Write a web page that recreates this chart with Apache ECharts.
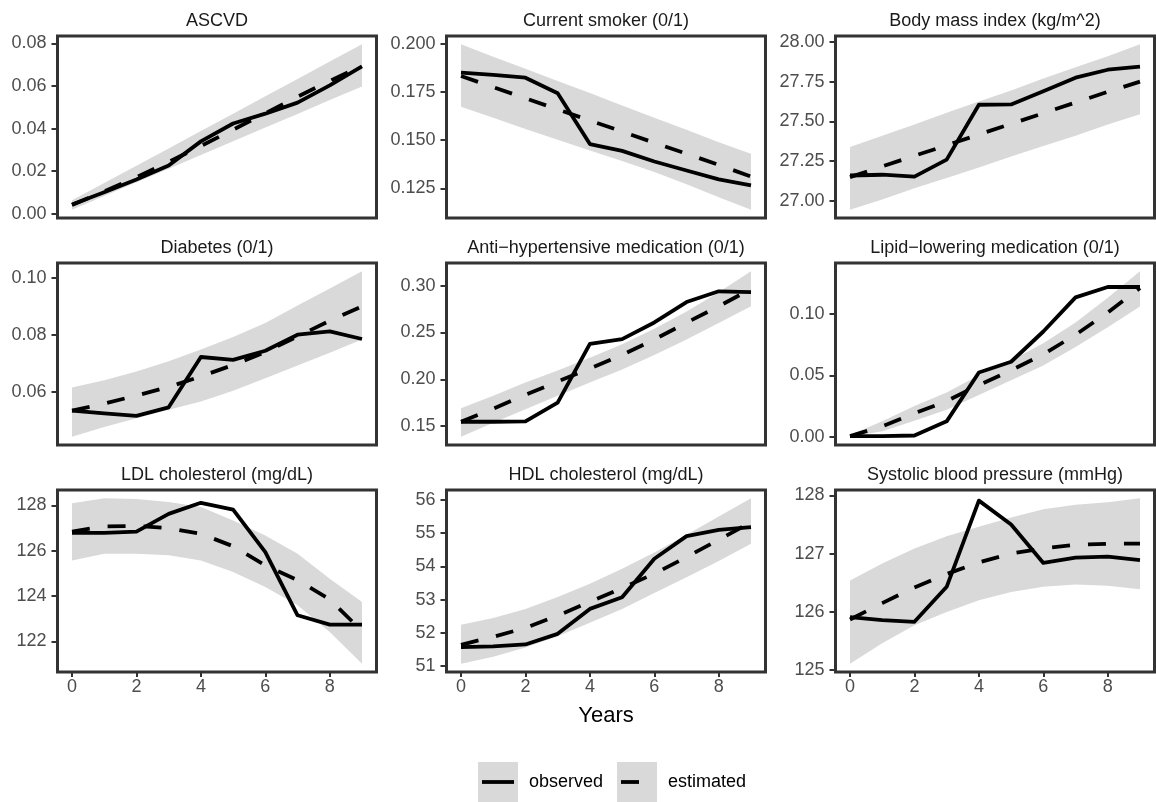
<!DOCTYPE html>
<html>
<head>
<meta charset="utf-8">
<title>Observed vs estimated trajectories</title>
<script src="https://cdn.jsdelivr.net/npm/echarts@6.0.0/dist/echarts.min.js"></script>
<style>
  html, body { margin: 0; padding: 0; background: #ffffff; }
  #chart { width: 1156px; height: 802px; }
</style>
</head>
<body>
<div id="chart"></div>
<script>
// Follow-up years shared by every panel
const years = [0, 1, 2, 3, 4, 5, 6, 7, 8, 9];
const yearTicks = [0, 2, 4, 6, 8];

// ASCVD
const ascvdObserved  = [0.0044, 0.0101, 0.0161, 0.0227, 0.0340, 0.0424, 0.0470, 0.0522, 0.0603, 0.0692];
const ascvdEstimated = [0.0041, 0.0105, 0.0172, 0.0243, 0.0318, 0.0395, 0.0472, 0.0550, 0.0624, 0.0695];
const ascvdUpper     = [0.0063, 0.0144, 0.0226, 0.0307, 0.0389, 0.0470, 0.0552, 0.0633, 0.0715, 0.0796];
const ascvdLower     = [0.0019, 0.0083, 0.0148, 0.0212, 0.0276, 0.0341, 0.0405, 0.0469, 0.0534, 0.0598];
const ascvdTicks     = [0, 0.02, 0.04, 0.06, 0.08];

// Current smoker
const smokerObserved  = [0.1850, 0.1838, 0.1824, 0.1743, 0.1480, 0.1445, 0.1390, 0.1343, 0.1297, 0.1266];
const smokerEstimated = [0.1833, 0.1775, 0.1717, 0.1660, 0.1602, 0.1545, 0.1487, 0.1430, 0.1372, 0.1312];
const smokerUpper     = [0.1997, 0.1933, 0.1870, 0.1807, 0.1744, 0.1680, 0.1617, 0.1554, 0.1490, 0.1430];
const smokerLower     = [0.1674, 0.1616, 0.1558, 0.1502, 0.1447, 0.1392, 0.1335, 0.1272, 0.1205, 0.1140];
const smokerTicks     = [0.125, 0.150, 0.175, 0.200];

// Body mass index
const bmiObserved  = [27.160, 27.165, 27.153, 27.260, 27.605, 27.607, 27.690, 27.775, 27.825, 27.845];
const bmiEstimated = [27.150, 27.217, 27.284, 27.350, 27.418, 27.485, 27.552, 27.619, 27.686, 27.750];
const bmiUpper     = [27.340, 27.410, 27.480, 27.555, 27.625, 27.695, 27.770, 27.840, 27.910, 27.985];
const bmiLower     = [26.945, 27.010, 27.080, 27.145, 27.210, 27.280, 27.345, 27.410, 27.480, 27.545];
const bmiTicks     = [27.00, 27.25, 27.50, 27.75, 28.00];

// Diabetes
const diabetesObserved  = [0.0535, 0.0526, 0.0517, 0.0547, 0.0723, 0.0713, 0.0745, 0.0801, 0.0813, 0.0786];
const diabetesEstimated = [0.0535, 0.0560, 0.0588, 0.0618, 0.0655, 0.0695, 0.0740, 0.0795, 0.0850, 0.0900];
const diabetesUpper     = [0.0616, 0.0642, 0.0672, 0.0708, 0.0749, 0.0793, 0.0842, 0.0903, 0.0963, 0.1023];
const diabetesLower     = [0.0444, 0.0478, 0.0509, 0.0538, 0.0567, 0.0605, 0.0649, 0.0693, 0.0738, 0.0784];
const diabetesTicks     = [0.06, 0.08, 0.10];

// Anti-hypertensive medication
const antihypObserved  = [0.1546, 0.1546, 0.1550, 0.1750, 0.2379, 0.2429, 0.2607, 0.2825, 0.2940, 0.2932];
const antihypEstimated = [0.1546, 0.1685, 0.1835, 0.1975, 0.2115, 0.2260, 0.2425, 0.2605, 0.2780, 0.2965];
const antihypUpper     = [0.1690, 0.1825, 0.1965, 0.2095, 0.2230, 0.2375, 0.2540, 0.2725, 0.2930, 0.3154];
const antihypLower     = [0.1386, 0.1535, 0.1680, 0.1825, 0.1965, 0.2105, 0.2260, 0.2425, 0.2600, 0.2779];
const antihypTicks     = [0.15, 0.20, 0.25, 0.30];

// Lipid-lowering medication
const lipidObserved  = [0.0005, 0.0005, 0.0010, 0.0125, 0.0523, 0.0610, 0.0856, 0.1134, 0.1218, 0.1218];
const lipidEstimated = [0.0005, 0.0085, 0.0190, 0.0290, 0.0420, 0.0540, 0.0670, 0.0830, 0.1010, 0.1210];
const lipidUpper     = [0.0015, 0.0125, 0.0250, 0.0360, 0.0500, 0.0620, 0.0760, 0.0930, 0.1130, 0.1346];
const lipidLower     = [0.0000, 0.0045, 0.0130, 0.0220, 0.0340, 0.0460, 0.0580, 0.0730, 0.0890, 0.1060];
const lipidTicks     = [0.00, 0.05, 0.10];

// LDL cholesterol
const ldlObserved  = [126.79, 126.79, 126.85, 127.63, 128.12, 127.82, 125.94, 123.15, 122.74, 122.74];
const ldlEstimated = [126.85, 127.08, 127.10, 127.00, 126.75, 126.20, 125.35, 124.70, 123.85, 122.45];
const ldlUpper     = [128.10, 128.32, 128.29, 128.15, 127.93, 127.34, 126.68, 125.87, 124.76, 123.74];
const ldlLower     = [125.57, 125.87, 125.87, 125.80, 125.57, 125.06, 124.40, 123.59, 122.41, 121.01];
const ldlTicks     = [122, 124, 126, 128];

// HDL cholesterol
const hdlObserved  = [51.57, 51.59, 51.65, 51.97, 52.72, 53.07, 54.23, 54.91, 55.10, 55.18];
const hdlEstimated = [51.64, 51.88, 52.15, 52.52, 52.93, 53.35, 53.78, 54.28, 54.80, 55.33];
const hdlUpper     = [52.24, 52.45, 52.72, 53.08, 53.48, 53.93, 54.42, 54.95, 55.50, 56.05];
const hdlLower     = [51.07, 51.28, 51.56, 51.90, 52.30, 52.72, 53.20, 53.67, 54.16, 54.68];
const hdlTicks     = [51, 52, 53, 54, 55, 56];

// Systolic blood pressure
const sbpObserved  = [125.91, 125.86, 125.83, 126.43, 127.91, 127.50, 126.84, 126.93, 126.95, 126.89];
const sbpEstimated = [125.87, 126.15, 126.42, 126.65, 126.85, 127.00, 127.09, 127.15, 127.17, 127.17];
const sbpUpper     = [126.54, 126.83, 127.09, 127.30, 127.46, 127.62, 127.76, 127.84, 127.88, 127.95];
const sbpLower     = [125.11, 125.46, 125.77, 126.00, 126.20, 126.34, 126.43, 126.47, 126.45, 126.39];
const sbpTicks     = [125, 126, 127, 128];

const panels = [
  { title: 'ASCVD', obs: ascvdObserved, est: ascvdEstimated, up: ascvdUpper, lo: ascvdLower, ticks: ascvdTicks, digits: 2 },
  { title: 'Current smoker (0/1)', obs: smokerObserved, est: smokerEstimated, up: smokerUpper, lo: smokerLower, ticks: smokerTicks, digits: 3 },
  { title: 'Body mass index (kg/m^2)', obs: bmiObserved, est: bmiEstimated, up: bmiUpper, lo: bmiLower, ticks: bmiTicks, digits: 2 },
  { title: 'Diabetes (0/1)', obs: diabetesObserved, est: diabetesEstimated, up: diabetesUpper, lo: diabetesLower, ticks: diabetesTicks, digits: 2 },
  { title: 'Anti\u2212hypertensive medication (0/1)', obs: antihypObserved, est: antihypEstimated, up: antihypUpper, lo: antihypLower, ticks: antihypTicks, digits: 2 },
  { title: 'Lipid\u2212lowering medication (0/1)', obs: lipidObserved, est: lipidEstimated, up: lipidUpper, lo: lipidLower, ticks: lipidTicks, digits: 2 },
  { title: 'LDL cholesterol (mg/dL)', obs: ldlObserved, est: ldlEstimated, up: ldlUpper, lo: ldlLower, ticks: ldlTicks, digits: 0 },
  { title: 'HDL cholesterol (mg/dL)', obs: hdlObserved, est: hdlEstimated, up: hdlUpper, lo: hdlLower, ticks: hdlTicks, digits: 0 },
  { title: 'Systolic blood pressure (mmHg)', obs: sbpObserved, est: sbpEstimated, up: sbpUpper, lo: sbpLower, ticks: sbpTicks, digits: 0 }
];

// Facet layout (pixels)
const COL_LEFT = [57.5, 446.5, 835.5];
const COL_WIDTH = 319;
const ROW_TOP = [36, 263, 490];
const ROW_HEIGHT = 182;

const FONT = "'Liberation Sans', Arial, Helvetica, sans-serif";
const BAND_FILL = '#d9d9d9';
const FRAME = '#333333';
const DASH = [18, 18];
const TEXT_SIZE = 18;

const grids = [], xAxes = [], yAxes = [], series = [], graphics = [];

panels.forEach((p, i) => {
  const row = Math.floor(i / 3), col = i % 3;
  const bottomRow = row === 2;

  grids.push({
    left: COL_LEFT[col], top: ROW_TOP[row], width: COL_WIDTH, height: ROW_HEIGHT,
    show: true, backgroundColor: '#ffffff', borderColor: FRAME, borderWidth: 3
  });

  // continuous scale with 5% padding on each side
  const all = p.obs.concat(p.est, p.up, p.lo);
  const lo = Math.min.apply(null, all), hi = Math.max.apply(null, all);
  const pad = (hi - lo) * 0.05;

  xAxes.push({
    gridIndex: i, type: 'value', min: -0.45, max: 9.45, position: 'bottom',
    axisLine: { show: false, onZero: false }, splitLine: { show: false },
    axisTick: bottomRow
      ? { show: true, customValues: yearTicks, length: 5, lineStyle: { color: FRAME, width: 2 } }
      : { show: false },
    axisLabel: bottomRow
      ? { show: true, customValues: yearTicks, color: '#4d4d4d', fontSize: TEXT_SIZE, fontFamily: FONT, margin: 6 }
      : { show: false },
    name: i === 7 ? 'Years' : '',
    nameLocation: 'middle', nameGap: 33,
    nameTextStyle: { color: '#000000', fontSize: 22, fontFamily: FONT }
  });

  yAxes.push({
    gridIndex: i, type: 'value', min: lo - pad, max: hi + pad, position: 'left',
    axisLine: { show: false, onZero: false }, splitLine: { show: false },
    axisTick: { show: true, customValues: p.ticks, length: 6, lineStyle: { color: FRAME, width: 2 } },
    axisLabel: {
      show: true, customValues: p.ticks, color: '#4d4d4d', fontSize: TEXT_SIZE, fontFamily: FONT, margin: 11,
      formatter: v => Number(v).toFixed(p.digits)
    }
  });

  // confidence ribbon: a polygon through the upper bounds and back along the lower bounds
  series.push({
    type: 'custom', xAxisIndex: i, yAxisIndex: i, silent: true, z: 1,
    data: years.map((x, k) => [x, p.lo[k], p.up[k]]),
    encode: { x: 0, y: [1, 2] },
    renderItem: (params, api) => {
      if (params.dataIndex !== 0) return null;
      const upperPts = years.map((x, k) => api.coord([x, p.up[k]]));
      const lowerPts = years.map((x, k) => api.coord([x, p.lo[k]])).reverse();
      return {
        type: 'polygon',
        shape: { points: upperPts.concat(lowerPts) },
        style: { fill: BAND_FILL, stroke: 'none' }
      };
    }
  });
  series.push({
    name: 'observed', type: 'line', xAxisIndex: i, yAxisIndex: i, symbol: 'none', z: 3,
    lineStyle: { color: '#000000', width: 3.8, type: 'solid', cap: 'butt', join: 'round' },
    data: years.map((x, k) => [x, p.obs[k]])
  });
  series.push({
    name: 'estimated', type: 'line', xAxisIndex: i, yAxisIndex: i, symbol: 'none', z: 3,
    lineStyle: { color: '#000000', width: 3.8, type: DASH, cap: 'butt', join: 'round' },
    data: years.map((x, k) => [x, p.est[k]])
  });

  // facet strip label
  graphics.push({
    type: 'text', x: COL_LEFT[col] + COL_WIDTH / 2, y: ROW_TOP[row] - 15,
    style: { text: p.title, fill: '#1a1a1a', fontSize: TEXT_SIZE, fontFamily: FONT, align: 'center', verticalAlign: 'middle' }
  });
});

// legend keys
const KEY_Y = 782;
[
  { x: 478, label: 'observed', dash: null },
  { x: 617, label: 'estimated', dash: DASH }
].forEach(k => {
  graphics.push({ type: 'rect', shape: { x: k.x, y: KEY_Y - 20, width: 40, height: 40 }, style: { fill: BAND_FILL } });
  graphics.push({
    type: 'line', shape: { x1: k.x + 4, y1: KEY_Y, x2: k.x + 36, y2: KEY_Y },
    style: { stroke: '#000000', lineWidth: 3.8, lineDash: k.dash, lineCap: 'butt' }
  });
  graphics.push({
    type: 'text', x: k.x + 51, y: KEY_Y,
    style: { text: k.label, fill: '#000000', fontSize: TEXT_SIZE, fontFamily: FONT, align: 'left', verticalAlign: 'middle' }
  });
});

const chart = echarts.init(document.getElementById('chart'), null, { renderer: 'canvas' });
chart.setOption({
  animation: false,
  backgroundColor: '#ffffff',
  grid: grids,
  xAxis: xAxes,
  yAxis: yAxes,
  series: series,
  graphic: graphics
});
</script>
</body>
</html>
